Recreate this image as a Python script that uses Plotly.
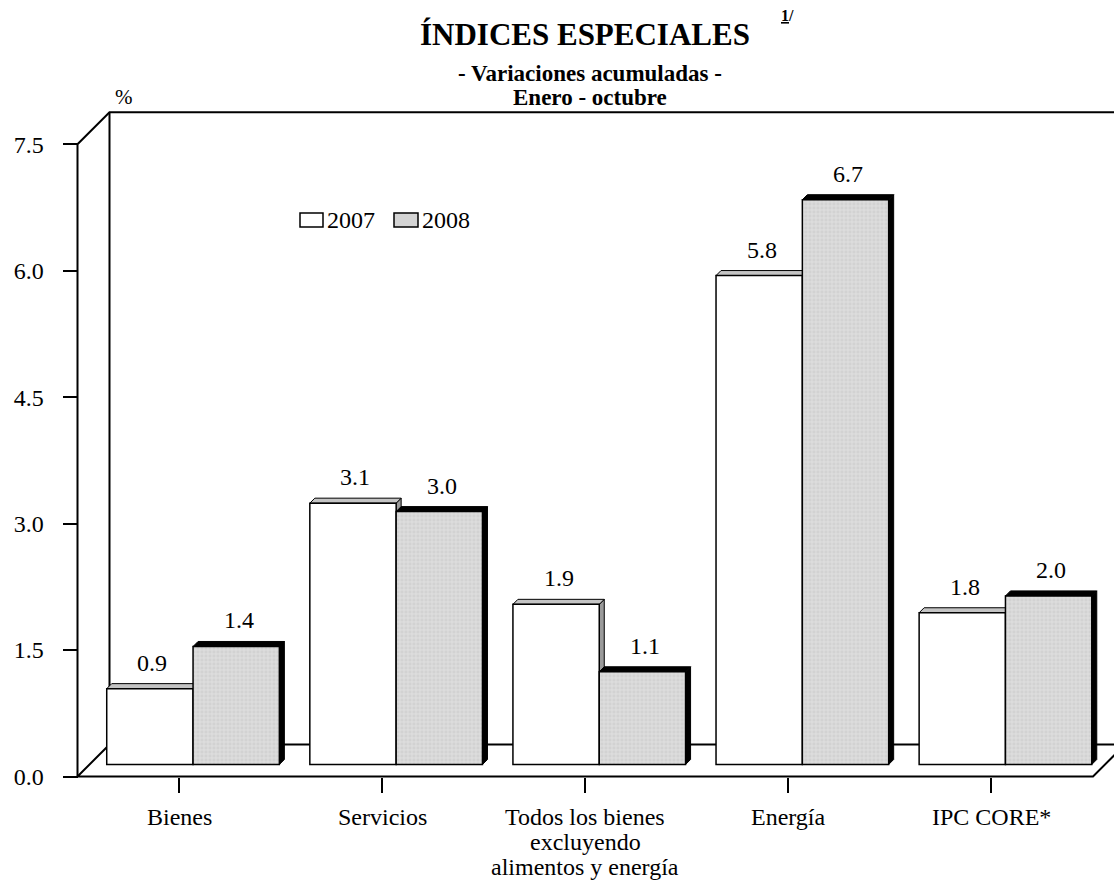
import plotly.graph_objects as go

# ---- data -------------------------------------------------------------
categories = ["Bienes", "Servicios",
              "Todos los bienes<br>excluyendo<br>alimentos y energía",
              "Energía", "IPC CORE*"]
years = ["2007", "2008"]
var_2007 = [0.9, 3.1, 1.9, 5.8, 1.8]
var_2008 = [1.4, 3.0, 1.1, 6.7, 2.0]
y_tickvals = [0.0, 1.5, 3.0, 4.5, 6.0, 7.5]

# ---- geometry ---------------------------------------------------------
FONT = "Liberation Serif, Times New Roman, serif"
W, H = 1114, 886
ML, MR, MT, MB = 70, 0, 100, 100
PW, PH = W - ML - MR, H - MT - MB

CAT_PX = 203.1          # px per category on the front plane
VAL_PX = 84.3           # px per percentage point
FRONT_X = 77.5          # pixel column of the front value axis
FRONT_Y = 776.5         # pixel row of the front floor edge (value 0)
WALL = 32               # depth of the wall / floor, px
BAR_DX, BAR_DY = 14, 12 # bar plane offset from the front plane, px
BAR_D = 5               # bar depth, px
BAR_GAP = 0.15


def ux(px):
    return px / CAT_PX


def uy(px):
    return px / VAL_PX


def paper_x(px):
    return (px - ML) / PW


def paper_y(py):
    return ((H - MB) - py) / PH


x_lo = -0.5 - ux(FRONT_X - ML)
x_hi = x_lo + ux(PW)
y_lo = -uy((H - MB) - FRONT_Y)
y_hi = y_lo + uy(PH)

n = len(categories)
x_end = n - 0.5
top = y_tickvals[-1]
wdx, wdy = ux(WALL), uy(WALL)

fig = go.Figure()

# ---- wall and floor outline (front plane axes) ------------------------
fx, fy = [], []


def seg(points):
    for px_, py_ in points:
        fx.append(px_)
        fy.append(py_)
    fx.append(None)
    fy.append(None)


seg([(-0.5, 0), (-0.5, top), (-0.5 + wdx, top + wdy), (x_end + wdx, top + wdy)])
seg([(-0.5 + wdx, wdy), (-0.5 + wdx, top + wdy)])
seg([(-0.5 + wdx, wdy), (-0.5, 0), (x_end, 0), (x_end + wdx, wdy), (-0.5 + wdx, wdy)])

fig.add_trace(go.Scatter(x=fx, y=fy, mode="lines", line=dict(color="black", width=2),
                         hoverinfo="skip", showlegend=False, xaxis="x", yaxis="y"))

# ---- bar depth faces (drawn beneath the bar fronts) -------------------
bw = (1 - BAR_GAP) / 2
bdx, bdy = ux(BAR_D), uy(BAR_D)


def faces(vals, k):
    tx, ty, sx, sy = [], [], [], []
    for i, v in enumerate(vals):
        L = i - (1 - BAR_GAP) / 2 + k * bw
        R = L + bw
        tx += [L, L + bdx, R + bdx, R, L, None]
        ty += [v, v + bdy, v + bdy, v, v, None]
        sx += [R, R + bdx, R + bdx, R, R, None]
        sy += [0, bdy, v + bdy, v, 0, None]
    return tx, ty, sx, sy


face_style = [("#9a9a9a", "#c4c4c4"), ("black", "black")]
for k, vals in enumerate([var_2007, var_2008]):
    tx, ty, sx, sy = faces(vals, k)
    side_c, top_c = face_style[k]
    fig.add_trace(go.Scatter(x=sx, y=sy, mode="lines", fill="toself", fillcolor=side_c,
                             line=dict(color="black", width=1), hoverinfo="skip",
                             showlegend=False, xaxis="x2", yaxis="y2"))
    fig.add_trace(go.Scatter(x=tx, y=ty, mode="lines", fill="toself", fillcolor=top_c,
                             line=dict(color="black", width=1), hoverinfo="skip",
                             showlegend=False, xaxis="x2", yaxis="y2"))

# ---- bar fronts -------------------------------------------------------
xs = list(range(n))
fig.add_trace(go.Bar(name=years[0], x=xs, y=var_2007, xaxis="x3", yaxis="y3",
                     marker=dict(color="white", line=dict(color="black", width=1.5)),
                     showlegend=False))
fig.add_trace(go.Bar(name=years[1], x=xs, y=var_2008, xaxis="x3", yaxis="y3",
                     marker=dict(color="#d6d6d6", line=dict(color="black", width=1.5),
                                 pattern=dict(shape="+", fgcolor="#f3f3f3", bgcolor="#d2d2d2",
                                              size=4, solidity=0.35)),
                     showlegend=False))

annotations = []

# value labels
for k, vals in enumerate([var_2007, var_2008]):
    for i, v in enumerate(vals):
        L = i - (1 - BAR_GAP) / 2 + k * bw
        annotations.append(dict(x=L + bw / 2, y=v, xref="x3", yref="y3",
                                text=f"{v:.1f}", showarrow=False, yanchor="bottom",
                                xshift=BAR_D / 2, yshift=BAR_D + 6,
                                font=dict(family=FONT, size=24, color="black")))

# category labels, one annotation per line
for i, cat in enumerate(categories):
    for j, line in enumerate(cat.split("<br>")):
        annotations.append(dict(x=i, y=paper_y(817 + j * 25), xref="x", yref="paper",
                                text=line, showarrow=False, yanchor="middle",
                                font=dict(family=FONT, size=24, color="black")))

# titles
annotations += [
    dict(x=paper_x(585), y=paper_y(34), xref="paper", yref="paper", yanchor="middle",
         text="<b>ÍNDICES ESPECIALES</b>", showarrow=False,
         font=dict(family=FONT, size=31, color="black")),
    dict(x=paper_x(779), y=paper_y(15), xref="paper", yref="paper", xanchor="left",
         yanchor="middle", text="<b><u>1</u>/</b>", showarrow=False,
         font=dict(family=FONT, size=16, color="black")),
    dict(x=paper_x(590), y=paper_y(73), xref="paper", yref="paper", yanchor="middle",
         text="<b>- Variaciones acumuladas -</b>", showarrow=False,
         font=dict(family=FONT, size=23, color="black")),
    dict(x=paper_x(590), y=paper_y(97), xref="paper", yref="paper", yanchor="middle",
         text="<b>Enero - octubre</b>", showarrow=False,
         font=dict(family=FONT, size=23, color="black")),
    dict(x=paper_x(113), y=paper_y(97), xref="paper", yref="paper", yanchor="middle",
         text="%", showarrow=False, font=dict(family=FONT, size=21, color="black")),
]

# legend
legend_boxes = [(300, 323, "white"), (394, 418, "#d4d4d4")]
shapes = []
for (x0, x1, col), name in zip(legend_boxes, years):
    shapes.append(dict(type="rect", xref="paper", yref="paper",
                       x0=paper_x(x0), x1=paper_x(x1), y0=paper_y(227), y1=paper_y(213),
                       fillcolor=col, line=dict(color="black", width=1.5)))
    annotations.append(dict(x=paper_x(x1 + 2), y=paper_y(220), xref="paper", yref="paper",
                            xanchor="left", yanchor="middle", text=name, showarrow=False,
                            font=dict(family=FONT, size=24, color="black")))

hidden = dict(visible=False, showgrid=False, zeroline=False, fixedrange=True)
fig.update_layout(
    width=W, height=H,
    margin=dict(l=ML, r=MR, t=MT, b=MB, pad=0),
    paper_bgcolor="white", plot_bgcolor="white",
    barmode="group", bargap=BAR_GAP, bargroupgap=0,
    showlegend=False,
    font=dict(family=FONT, size=24, color="black"),
    xaxis=dict(range=[x_lo, x_hi], tickvals=xs, ticks="outside", ticklen=15, tickwidth=1.5,
               tickcolor="black", showticklabels=False, showgrid=False, zeroline=False,
               showline=False, anchor="free", position=paper_y(FRONT_Y)),
    yaxis=dict(range=[y_lo, y_hi], tickvals=y_tickvals, tickformat=".1f", ticks="outside",
               ticklen=15, tickwidth=1.5, tickcolor="black", showgrid=False, zeroline=False,
               showline=False, anchor="free", position=paper_x(FRONT_X),
               ticklabelstandoff=14, tickfont=dict(family=FONT, size=24, color="black")),
    xaxis2=dict(range=[x_lo - ux(BAR_DX), x_hi - ux(BAR_DX)], overlaying="x", anchor="y2", **hidden),
    yaxis2=dict(range=[y_lo - uy(BAR_DY), y_hi - uy(BAR_DY)], overlaying="y", anchor="x2", **hidden),
    xaxis3=dict(range=[x_lo - ux(BAR_DX), x_hi - ux(BAR_DX)], overlaying="x", anchor="y3", **hidden),
    yaxis3=dict(range=[y_lo - uy(BAR_DY), y_hi - uy(BAR_DY)], overlaying="y", anchor="x3", **hidden),
    annotations=annotations,
    shapes=shapes,
)

fig.write_html("out.html")
